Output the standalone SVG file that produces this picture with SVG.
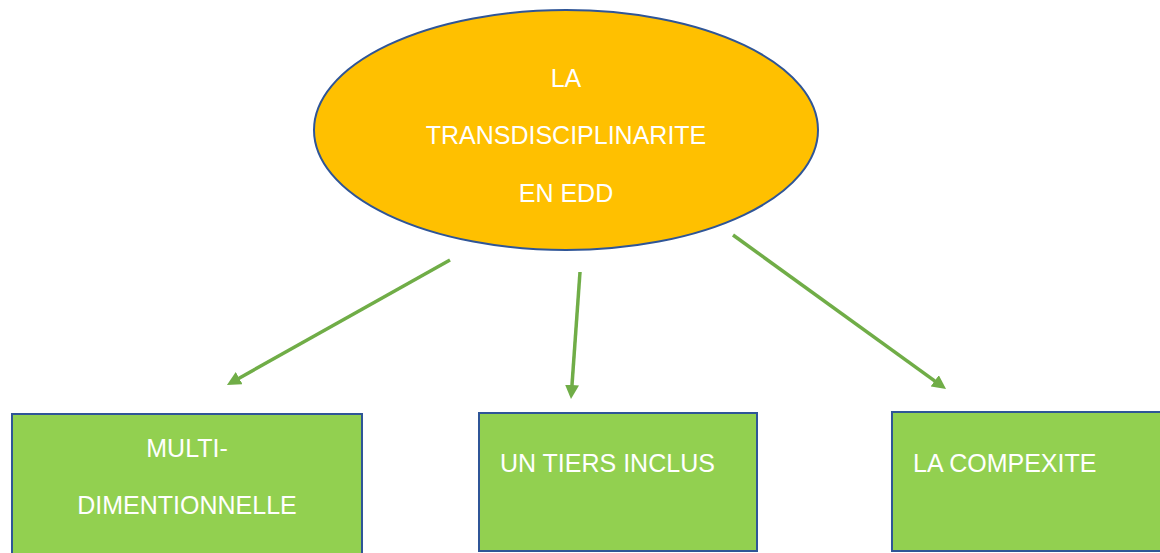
<svg xmlns="http://www.w3.org/2000/svg" width="1160" height="553" viewBox="0 0 1160 553">
<style>
.t{font-family:"Liberation Sans",Arial,sans-serif;font-size:25px;fill:#ffffff}
.box{fill:#92D050;stroke:#2F5597;stroke-width:2}
.conn{stroke:#70AD47;stroke-width:3.5;fill:none}
</style>
<defs>
<marker id="ah" viewBox="0 0 10 10" refX="3" refY="5" markerWidth="4" markerHeight="4" orient="auto" markerUnits="strokeWidth">
<path d="M0,0 L10,5 L0,10 z" fill="#70AD47"/>
</marker>
</defs>
<rect width="1160" height="553" fill="#ffffff"/>
<g id="center">
<ellipse cx="566" cy="130" rx="252" ry="120" fill="#FFC000" stroke="#2F5597" stroke-width="2"/>
<text class="t" x="566" y="87" text-anchor="middle">LA</text>
<text class="t" x="566" y="144" text-anchor="middle">TRANSDISCIPLINARITE</text>
<text class="t" x="566" y="202" text-anchor="middle">EN EDD</text>
</g>
<g id="node-multi">
<rect class="box" x="12" y="414" width="350" height="145"/>
<text class="t" x="187" y="457" text-anchor="middle">MULTI-</text>
<text class="t" x="187" y="514" text-anchor="middle">DIMENTIONNELLE</text>
</g>
<g id="node-tiers">
<rect class="box" x="479" y="413" width="278" height="138"/>
<text class="t" x="500" y="472">UN TIERS INCLUS</text>
</g>
<g id="node-complexite">
<rect class="box" x="892" y="412" width="280" height="139"/>
<text class="t" x="913" y="472">LA COMPEXITE</text>
</g>
<g id="connectors">
<line class="conn" x1="450" y1="260" x2="235.5" y2="380.2" marker-end="url(#ah)"/>
<line class="conn" x1="580" y1="272" x2="571.7" y2="389.2" marker-end="url(#ah)"/>
<line class="conn" x1="733" y1="235" x2="938.1" y2="383.3" marker-end="url(#ah)"/>
</g>
</svg>
